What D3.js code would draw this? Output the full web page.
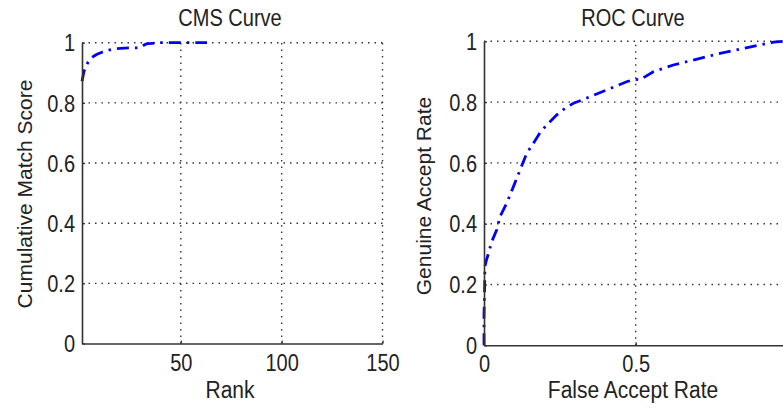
<!DOCTYPE html>
<html>
<head>
<meta charset="utf-8">
<script src="https://cdn.jsdelivr.net/npm/d3@7"></script>
<style>
  html, body { margin: 0; padding: 0; background: #fff; }
  svg { display: block; }
  text { font-family: "Liberation Sans", Arial, Helvetica, sans-serif; fill: #222; }
</style>
</head>
<body>
<svg id="chart" width="783" height="408"></svg>
<script>
// ---- Data ----
// CMS curve: rank vs cumulative match score
const cmsRanks  = [1, 2, 3, 4, 5, 6, 7, 8, 9, 10, 12, 14, 16, 18, 20, 22, 25, 28, 30, 31, 32, 33, 34, 36, 38, 40, 45, 50, 55, 60, 63];
const cmsScores = [0.872, 0.905, 0.922, 0.935, 0.945, 0.951, 0.956, 0.960, 0.963, 0.966, 0.971, 0.975, 0.978, 0.980, 0.981, 0.982, 0.983, 0.983, 0.984, 0.988, 0.993, 0.996, 0.997, 0.998, 0.999, 1.0, 1.0, 1.0, 1.0, 1.0, 1.0];

// ROC curve: false accept rate vs genuine accept rate
const rocFAR = [0, 0, 0.002, 0.003, 0.008, 0.014, 0.025, 0.042, 0.053, 0.075, 0.097, 0.119, 0.141, 0.163, 0.185, 0.207, 0.240, 0.270, 0.295, 0.338, 0.404, 0.470, 0.498, 0.514, 0.558, 0.624, 0.712, 0.778, 0.844, 0.910, 0.954, 0.985, 1.0];
const rocGAR = [0, 0.10, 0.18, 0.26, 0.28, 0.30, 0.34, 0.38, 0.424, 0.468, 0.522, 0.577, 0.632, 0.665, 0.700, 0.725, 0.758, 0.782, 0.796, 0.813, 0.840, 0.867, 0.875, 0.873, 0.900, 0.922, 0.944, 0.960, 0.974, 0.988, 0.997, 1.0, 1.0];

const cmsXTicks = [50, 100, 150];
const yTicks = [0, 0.2, 0.4, 0.6, 0.8, 1];
const rocXTicks = [0, 0.5, 1];
const rocXTickLabels = [0, 0.5];   // the "1" label lies outside the cropped picture

const SY = 1.15; // vertical stretch of the lettering in the reference

const svg = d3.select("#chart");
svg.append("rect").attr("width", 783).attr("height", 408).attr("fill", "#fff");

function panel(cfg) {
  const g = svg.append("g");
  const x = d3.scaleLinear().domain(cfg.xDomain).range(cfg.xRange);
  const y = d3.scaleLinear().domain([0, 1]).range(cfg.yRange);

  // grid
  const grid = g.append("g").attr("stroke", "#333").attr("stroke-width", 1.4)
    .attr("stroke-dasharray", "1.5,5");
  grid.selectAll("line.h").data(yTicks.filter(d => d > 0)).join("line")
    .attr("x1", cfg.xRange[0]).attr("x2", cfg.xRange[1])
    .attr("y1", d => y(d)).attr("y2", d => y(d));
  grid.selectAll("line.v").data(cfg.xTicks.filter(d => d > cfg.xDomain[0])).join("line")
    .attr("x1", d => x(d)).attr("x2", d => x(d))
    .attr("y1", cfg.yRange[0]).attr("y2", cfg.yRange[1]);

  // curve
  const pts = cfg.xs.map((v, i) => [v, cfg.ys[i]]);
  g.append("path").datum(pts)
    .attr("fill", "none").attr("stroke", "#0000ff").attr("stroke-width", 2.8)
    .attr("stroke-dasharray", "12,6,2.5,6")
    .attr("d", d3.line().x(d => x(d[0])).y(d => y(d[1])));

  // axes
  const ax = g.append("g").attr("transform", `translate(0,${cfg.yRange[0]})`)
    .call(d3.axisBottom(x).tickValues(cfg.xTicks)
      .tickFormat(d => cfg.xLabels.includes(d) ? cfg.xFmt(d) : "")
      .tickSizeInner(-3).tickSizeOuter(0).tickPadding(10));
  const ay = g.append("g").attr("transform", `translate(${cfg.xRange[0]},0)`)
    .call(d3.axisLeft(y).tickValues(yTicks).tickFormat(d3.format("~g")).tickSizeInner(-3).tickSizeOuter(0).tickPadding(7));
  [ax, ay].forEach(a => {
    a.select(".domain").attr("stroke", "#333").attr("stroke-width", 1.6);
    a.selectAll(".tick line").attr("stroke", "#333").attr("stroke-width", 1.3);
    a.selectAll(".tick text").attr("font-size", 20).attr("fill", "#222")
      .attr("font-family", '"Liberation Sans", Arial, sans-serif');
  });
  ax.selectAll(".tick text").attr("y", 0).attr("dy", 0)
    .attr("transform", `translate(0,${cfg.xTickBase}) scale(1,${SY})`);
  ay.selectAll(".tick text").attr("x", 0).attr("dy", "0.357em")
    .attr("transform", `translate(-7,0) scale(1,${SY})`);

  // titles/labels
  g.append("text").attr("transform", `translate(${cfg.cx},26) scale(1,${SY})`).attr("text-anchor", "middle")
    .attr("font-size", 20).text(cfg.title);
  g.append("text").attr("transform", `translate(${cfg.cx},398) scale(1,${SY})`).attr("text-anchor", "middle")
    .attr("font-size", 21).text(cfg.xLabel);
  g.append("text").attr("transform", `translate(${cfg.ylx},${cfg.cy}) rotate(-90)`)
    .attr("text-anchor", "middle").attr("font-size", 21).text(cfg.yLabel);
}

panel({
  xDomain: [1, 150], xRange: [82, 382.5], yRange: [343.5, 42.7],
  xTicks: cmsXTicks, xLabels: cmsXTicks, xFmt: d3.format("d"), xTickBase: 27.5,
  xs: cmsRanks, ys: cmsScores,
  title: "CMS Curve", xLabel: "Rank", yLabel: "Cumulative Match Score",
  cx: 230, cy: 194, ylx: 31.5
});

panel({
  xDomain: [0, 1], xRange: [484, 787.4], yRange: [345.3, 41.3],
  xTicks: rocXTicks, xLabels: rocXTickLabels, xFmt: d3.format("~g"), xTickBase: 26.5,
  xs: rocFAR, ys: rocGAR,
  title: "ROC Curve", xLabel: "False Accept Rate", yLabel: "Genuine Accept Rate",
  cx: 633, cy: 196, ylx: 431
});
</script>
</body>
</html>
